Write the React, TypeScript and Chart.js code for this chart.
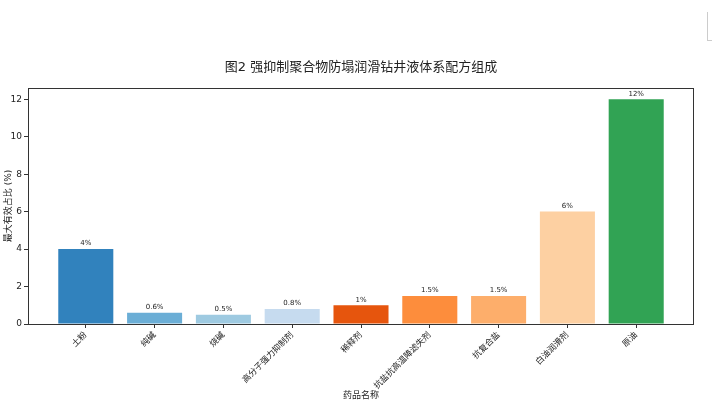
import { useEffect, useRef } from "react";
import { Chart, registerables } from "chart.js";

Chart.register(...registerables);

const FONT = "'DejaVu Sans', 'Noto Sans CJK SC', sans-serif";

const categories = [
  "土粉",
  "纯碱",
  "烧碱",
  "高分子强力抑制剂",
  "稀释剂",
  "抗盐抗高温降滤失剂",
  "抗复合盐",
  "白油润滑剂",
  "原油",
];
const values = [4, 0.6, 0.5, 0.8, 1, 1.5, 1.5, 6, 12];
const valueLabels = ["4%", "0.6%", "0.5%", "0.8%", "1%", "1.5%", "1.5%", "6%", "12%"];
const barColors = [
  "#3182bd",
  "#6baed6",
  "#9ecae1",
  "#c6dbef",
  "#e6550d",
  "#fd8d3c",
  "#fdae6b",
  "#fdd0a2",
  "#31a354",
];
const yTicks = [0, 2, 4, 6, 8, 10, 12];
const chartTitle = "图2 强抑制聚合物防塌润滑钻井液体系配方组成";
const xTitle = "药品名称";
const yTitle = "最大有效占比 (%)";

const decorPlugin = {
  id: "decor",
  afterDatasetsDraw(chart: any) {
    const { ctx, chartArea: a } = chart;
    ctx.save();
    // value labels above bars
    const meta = chart.getDatasetMeta(0);
    ctx.font = `7px ${FONT}`;
    ctx.fillStyle = "#222";
    ctx.textAlign = "center";
    ctx.textBaseline = "bottom";
    meta.data.forEach((bar: any, i: number) => {
      ctx.fillText(valueLabels[i], bar.x, bar.y - 2);
    });
    // frame
    ctx.strokeStyle = "#333";
    ctx.lineWidth = 1;
    const l = Math.round(a.left) + 0.5;
    const t = Math.round(a.top) + 0.5;
    const r = Math.round(a.right) - 0.5;
    const b = Math.round(a.bottom) + 0.5;
    ctx.strokeRect(l, t, r - l, b - t);
    // title
    ctx.font = `13px ${FONT}`;
    ctx.fillStyle = "#222";
    ctx.textAlign = "center";
    ctx.textBaseline = "middle";
    ctx.fillText(chartTitle, (a.left + a.right) / 2, a.top - 20);
    ctx.restore();
  },
};

export default function App() {
  const canvasRef = useRef<HTMLCanvasElement | null>(null);

  useEffect(() => {
    if (!canvasRef.current) return;
    Chart.defaults.font.family = FONT;
    const chart = new Chart(canvasRef.current, {
      type: "bar",
      data: {
        datasets: [
          {
            data: values.map((v, i) => ({ x: i, y: v })) as any,
            backgroundColor: barColors,
            barPercentage: 0.8,
            categoryPercentage: 1,
          },
        ],
      },
      options: {
        animation: false,
        responsive: true,
        maintainAspectRatio: false,
        layout: { padding: { top: 88, right: 18, left: 0, bottom: 0 } },
        plugins: { legend: { display: false }, tooltip: { enabled: false } },
        scales: {
          x: {
            type: "linear",
            min: -0.84,
            max: 8.84,
            bounds: "data",
            offset: false,
            afterBuildTicks: (s: any) => {
              s.ticks = categories.map((_, i) => ({ value: i }));
            },
            afterFit: (s: any) => {
              s.height = 84;
            },
            ticks: {
              autoSkip: false,
              minRotation: 45,
              maxRotation: 45,
              callback: (v: any) => categories[v as number],
              font: { size: 8.5 },
              color: "#222",
              padding: 2,
            },
            grid: {
              offset: false,
              drawOnChartArea: false,
              drawTicks: true,
              tickLength: 4,
              tickColor: "#333",
            },
            border: { display: false },
            title: {
              display: true,
              text: xTitle,
              font: { size: 9 },
              color: "#222",
              padding: { top: 0, bottom: 7 },
            },
          } as any,
          y: {
            min: 0,
            max: 12.6,
            bounds: "data",
            afterBuildTicks: (s: any) => {
              s.ticks = yTicks.map((v) => ({ value: v }));
            },
            afterFit: (s: any) => {
              s.width = 28;
            },
            ticks: { font: { size: 9 }, color: "#222", padding: 2 },
            grid: {
              offset: false,
              drawOnChartArea: false,
              drawTicks: true,
              tickLength: 4,
              tickColor: "#333",
            },
            border: { display: false },
            title: {
              display: true,
              text: yTitle,
              font: { size: 9 },
              color: "#222",
              padding: { top: 3, bottom: 0 },
            },
          } as any,
        },
      },
      plugins: [decorPlugin],
    });
    return () => chart.destroy();
  }, []);

  return (
    <div style={{ position: "absolute", left: 0, top: 0, width: 712, height: 408, background: "#fff" }}>
      <canvas ref={canvasRef} />
      <div
        style={{
          position: "absolute",
          left: 707,
          top: 12,
          width: 5,
          height: 29,
          borderLeft: "1px solid #ccc",
          borderBottom: "1px solid #ccc",
          boxSizing: "border-box",
        }}
      />
    </div>
  );
}
